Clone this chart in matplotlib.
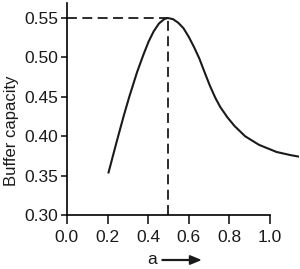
import matplotlib
matplotlib.use("Agg")
import matplotlib.pyplot as plt

plt.rcParams["font.family"] = ["Liberation Sans", "DejaVu Sans"]

# curve
a_vals = [0.205, 0.246, 0.281, 0.307, 0.345, 0.376, 0.402, 0.427, 0.453,
          0.479, 0.496, 0.522, 0.548, 0.574, 0.600, 0.626, 0.652, 0.678,
          0.704, 0.730, 0.755, 0.790, 0.825, 0.877, 0.946, 1.032, 1.101, 1.144]
capacity = [0.354, 0.394, 0.427, 0.450, 0.481, 0.503, 0.520, 0.533, 0.543,
            0.5486, 0.550, 0.5486, 0.544, 0.537, 0.526, 0.513, 0.4985, 0.481,
            0.464, 0.449, 0.437, 0.424, 0.413, 0.400, 0.389, 0.380, 0.376, 0.374]

peak_a = 0.5
peak_c = 0.55

x_ticks = [0.0, 0.2, 0.4, 0.6, 0.8, 1.0]
y_ticks = [0.30, 0.35, 0.40, 0.45, 0.50, 0.55]

fig = plt.figure(figsize=(3.0, 2.69), dpi=100)
ax = fig.add_axes([0.223, 0.2007, 0.772, 0.788])

ax.plot(a_vals, capacity, color="#1a1a1a", lw=1.5, solid_joinstyle="round")
ax.plot([0, peak_a], [peak_c, peak_c], color="#1a1a1a", lw=1.3, dashes=(5.5, 3))
ax.plot([peak_a, peak_a], [0.30, peak_c], color="#1a1a1a", lw=1.3, dashes=(5.5, 3))

ax.set_xlim(0, 1.14)
ax.set_ylim(0.30, 0.569)
ax.set_xticks(x_ticks)
ax.set_xticklabels([f"{v:.1f}" for v in x_ticks])
ax.set_yticks(y_ticks)
ax.set_yticklabels([f"{v:.2f}" for v in y_ticks])

for s in ["top", "right"]:
    ax.spines[s].set_visible(False)
ax.spines["bottom"].set_bounds(0, 1.0)
ax.spines["left"].set_linewidth(1.2)
ax.spines["bottom"].set_linewidth(1.2)
ax.tick_params(axis="x", length=6.5, width=1.2, labelsize=12.5, pad=4, colors="#1a1a1a")
ax.tick_params(axis="y", length=4.5, width=1.2, labelsize=12.5, pad=1.5, colors="#1a1a1a")

fig.text(12 / 300, 1 - 131 / 269, "Buffer capacity", rotation=90,
         ha="center", va="center", fontsize=12, color="#1a1a1a")
fig.text(152 / 300, 1 - 260 / 269, "a", ha="center", va="center",
         fontsize=12.5, color="#1a1a1a")
fig.patches.append(matplotlib.patches.FancyArrow(
    162 / 300, 1 - 260 / 269, 38 / 300, 0, width=0.003, head_width=0.032,
    head_length=0.035, length_includes_head=True, color="#1a1a1a",
    transform=fig.transFigure, figure=fig))

fig.savefig("out.png", dpi=100)
